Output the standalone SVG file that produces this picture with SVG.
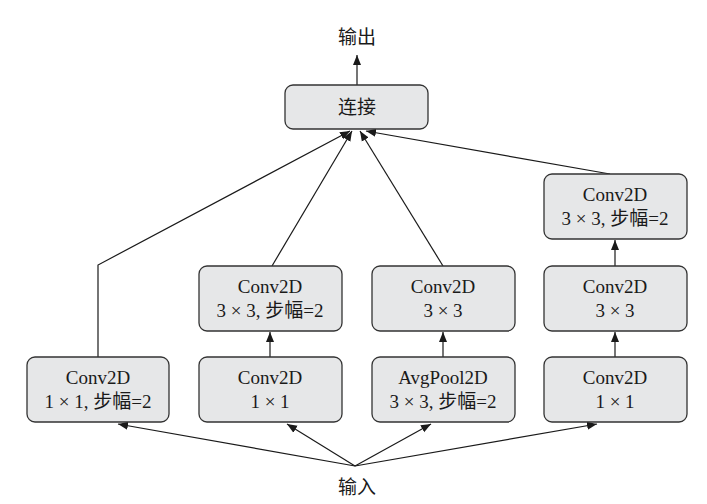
<svg xmlns="http://www.w3.org/2000/svg" width="707" height="504" viewBox="0 0 707 504">
<defs>
<marker id="ah" viewBox="0 0 10 10" refX="10" refY="5" markerWidth="10" markerHeight="10" markerUnits="userSpaceOnUse" orient="auto">
<path d="M0,1 L10,5 L0,9 Z" fill="#1a1a1a"/>
</marker>
<style>
.box{fill:#e6e7e8;stroke:#333;stroke-width:1.3}
.t{font-family:"Liberation Serif","Noto Sans CJK SC",serif;font-size:19px;fill:#1a1a1a;text-anchor:middle}
.c{stroke:#1a1a1a;stroke-width:1.2;fill:none}
</style>
</defs>
<rect width="707" height="504" fill="#fff"/>
<g id="connectors">
<line class="c" x1="357" y1="85" x2="357" y2="55" marker-end="url(#ah)"/>
<polyline class="c" points="98,357 98,265 350,131" marker-end="url(#ah)"/>
<line class="c" x1="272" y1="266" x2="352" y2="131" marker-end="url(#ah)"/>
<line class="c" x1="443" y1="266" x2="360" y2="131" marker-end="url(#ah)"/>
<line class="c" x1="610" y1="174" x2="366" y2="131" marker-end="url(#ah)"/>
<line class="c" x1="270" y1="357" x2="270" y2="332" marker-end="url(#ah)"/>
<line class="c" x1="443" y1="357" x2="443" y2="332" marker-end="url(#ah)"/>
<line class="c" x1="615" y1="357" x2="615" y2="332" marker-end="url(#ah)"/>
<line class="c" x1="615" y1="266" x2="615" y2="240" marker-end="url(#ah)"/>
<line class="c" x1="355" y1="466" x2="118" y2="424" marker-end="url(#ah)"/>
<line class="c" x1="355" y1="466" x2="287" y2="424" marker-end="url(#ah)"/>
<line class="c" x1="355" y1="466" x2="431" y2="424" marker-end="url(#ah)"/>
<line class="c" x1="355" y1="466" x2="597" y2="424" marker-end="url(#ah)"/>
</g>
<g id="output"><text class="t" x="357" y="44">输出</text></g>
<g id="input"><text class="t" x="357" y="494">输入</text></g>
<g id="concat">
<rect class="box" x="285" y="85" width="143" height="44" rx="8"/>
<text class="t" x="357" y="114">连接</text>
</g>
<g id="b1">
<rect class="box" x="27" y="357" width="142" height="65" rx="8"/>
<text class="t" x="98" y="384">Conv2D</text>
<text class="t" x="98" y="408">1 × 1, 步幅=2</text>
</g>
<g id="b2">
<rect class="box" x="199" y="357" width="143" height="65" rx="8"/>
<text class="t" x="270" y="384">Conv2D</text>
<text class="t" x="270" y="408">1 × 1</text>
</g>
<g id="b3">
<rect class="box" x="372" y="357" width="143" height="65" rx="8"/>
<text class="t" x="443" y="384">AvgPool2D</text>
<text class="t" x="443" y="408">3 × 3, 步幅=2</text>
</g>
<g id="b4">
<rect class="box" x="544" y="357" width="143" height="65" rx="8"/>
<text class="t" x="615" y="384">Conv2D</text>
<text class="t" x="615" y="408">1 × 1</text>
</g>
<g id="b2m">
<rect class="box" x="199" y="266" width="143" height="65" rx="8"/>
<text class="t" x="270" y="293">Conv2D</text>
<text class="t" x="270" y="317">3 × 3, 步幅=2</text>
</g>
<g id="b3m">
<rect class="box" x="372" y="266" width="143" height="65" rx="8"/>
<text class="t" x="443" y="293">Conv2D</text>
<text class="t" x="443" y="317">3 × 3</text>
</g>
<g id="b4m">
<rect class="box" x="544" y="266" width="143" height="65" rx="8"/>
<text class="t" x="615" y="293">Conv2D</text>
<text class="t" x="615" y="317">3 × 3</text>
</g>
<g id="b4t">
<rect class="box" x="544" y="174" width="143" height="65" rx="8"/>
<text class="t" x="615" y="201">Conv2D</text>
<text class="t" x="615" y="225">3 × 3, 步幅=2</text>
</g>
</svg>
